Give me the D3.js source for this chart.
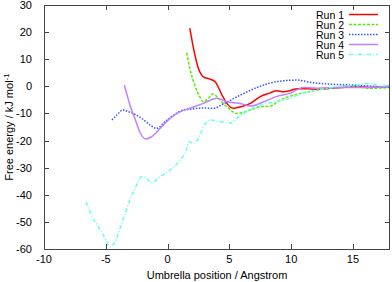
<!DOCTYPE html>
<html><head><meta charset="utf-8">
<script src="https://cdn.jsdelivr.net/npm/d3@7"></script>
<style>
html,body{margin:0;padding:0;background:#fff;}
svg text{font-family:"Liberation Sans",Arial,sans-serif;font-size:11px;fill:#000;}
</style></head>
<body><svg id="c" width="392" height="282"></svg>
<script>
const xTicks = [-10, -5, 0, 5, 10, 15];
const yTicks = [30, 20, 10, 0, -10, -20, -30, -40, -50, -60];
const seriesNames = ["Run 1", "Run 2", "Run 3", "Run 4", "Run 5"];
const run1 = [[1.8,21.5],[2.1,14],[2.5,6.6],[2.9,3.5],[3.4,2.7],[3.85,1.7],[4.4,-3.2],[4.8,-6.3],[5.3,-8.1],[6.1,-7.3],[6.7,-6.3],[7.5,-3.8],[8.3,-2.4],[8.8,-1.6],[9.4,-2.0],[9.9,-1.6],[10.5,-0.9],[11.3,-0.9],[12.1,-1.1],[13.2,-0.7],[14.2,-0.4],[15.3,-0.1],[16.4,-0.4],[18,0]];
const run2 = [[1.55,12.4],[1.8,6.6],[2.2,0.5],[2.6,-3.8],[2.9,-5.7],[3.3,-4.4],[3.65,-2.8],[4.0,-3.8],[4.5,-6.3],[4.8,-7.5],[5.6,-10],[6.7,-8.7],[7.5,-7.5],[8.3,-7.3],[9.1,-5.1],[10.2,-3.2],[11,-2.4],[12.1,-1.4],[13.7,-0.4],[14.8,0.1],[16.4,-0.7],[18,-0.5]];
const run3 = [[-4.5,-12.4],[-4.1,-10.6],[-3.6,-8.7],[-3.4,-9],[-2.8,-10],[-2.1,-11.8],[-1.4,-14.3],[-0.9,-15.5],[-0.2,-13],[0.5,-10.6],[1.3,-8.7],[1.8,-8.5],[2.8,-8.0],[3.7,-8.1],[4.5,-6.5],[5.9,-3.2],[7.2,-0.5],[8.8,1.7],[10.5,2.3],[11.5,1.5],[13.2,0.8],[14.8,0.5],[16.4,0.1],[18,-0.4]];
const run4 = [[-3.5,0.5],[-3.0,-7.5],[-2.6,-12.4],[-2.2,-17.3],[-1.75,-19.4],[-1.3,-18.6],[-0.6,-15.5],[0.2,-11.8],[1.0,-9.4],[1.8,-8.1],[2.9,-6.3],[4.0,-4.4],[4.8,-5.7],[5.9,-6.3],[6.7,-7.3],[7.8,-5.7],[8.8,-3.8],[9.9,-2.6],[11,-0.4],[12.1,-0.7],[13.7,-0.4],[16.4,-0.4],[18,0]];
const run5 = [[-6.6,-42.6],[-6.1,-48.1],[-5.6,-51.8],[-5.05,-56.1],[-4.65,-59.2],[-4.25,-57.3],[-3.7,-50.5],[-3.05,-41.9],[-2.5,-36.4],[-2.1,-33.3],[-1.7,-33.9],[-1.3,-35.5],[-0.6,-33.3],[0.2,-30.9],[0.9,-27.8],[1.55,-22.9],[1.7,-20.4],[2.1,-21],[2.5,-19.2],[2.9,-14.9],[3.45,-12.4],[4.25,-13],[5.05,-13.6],[5.6,-11.8],[6.15,-10],[7.2,-7.5],[8.3,-6.0],[9.4,-5.1],[9.9,-4.4],[11,-2.4],[12.1,-1.4],[13.7,-0.1],[15.3,0.5],[16.4,1.1],[17.2,0.1],[18,0.5]];
const allRuns = [run1, run2, run3, run4, run5];
const colors = ["#ff0000", "#55ee00", "#3355ff", "#c080ff", "#66ffee"];
const dashes = [null, "3,1.5", "1.5,1.5", null, "4,2,1,2"];

const W = 392, H = 282;
const L = 44, R = 390, T = 5, B = 249;
const svg = d3.select("#c");
const x = d3.scaleLinear().domain([-10, 18]).range([L, R]);
const y = d3.scaleLinear().domain([-60, 30]).range([B, T]);
const axisColor = "#444";
const tk = 5;

// ticks (inside, mirrored)
const g = svg.append("g");
xTicks.forEach(v => {
  const px = Math.round(x(v)) + 0.5;
  if (v > -10) {
    g.append("line").attr("x1", px).attr("x2", px).attr("y1", B).attr("y2", B - tk).attr("stroke", axisColor);
    g.append("line").attr("x1", px).attr("x2", px).attr("y1", T).attr("y2", T + tk).attr("stroke", axisColor);
  }
  g.append("text").attr("x", x(v)).attr("y", 263).attr("text-anchor", "middle").text(v);
});
yTicks.forEach(v => {
  const py = Math.round(y(v)) + 0.5;
  if (v < 30 && v > -60) {
    g.append("line").attr("x1", L).attr("x2", L + tk).attr("y1", py).attr("y2", py).attr("stroke", axisColor);
    g.append("line").attr("x1", R).attr("x2", R - tk).attr("y1", py).attr("y2", py).attr("stroke", axisColor);
  }
  g.append("text").attr("x", 32).attr("y", y(v) + 4).attr("text-anchor", "end").text(v);
});

// data lines
const line = d3.line().x(d => x(d[0])).y(d => y(d[1])).curve(d3.curveMonotoneX);
svg.append("clipPath").attr("id", "pc").append("rect").attr("x", L).attr("y", T).attr("width", R - L).attr("height", B - T);
allRuns.forEach((data, i) => {
  svg.append("path").datum(data).attr("d", line).attr("fill", "none")
    .attr("stroke", colors[i]).attr("stroke-width", 1.5)
    .attr("stroke-dasharray", dashes[i]).attr("clip-path", "url(#pc)");
});

// frame
svg.append("rect").attr("x", L + 0.5).attr("y", T + 0.5).attr("width", R - L - 1).attr("height", B - T)
  .attr("fill", "none").attr("stroke", axisColor).attr("stroke-width", 1);

// legend
const lg = svg.append("g").style("font-size", "10.5px");
seriesNames.forEach((name, i) => {
  const ly = 14.5 + i * 10;
  lg.append("text").attr("x", 344).attr("y", ly + 4).attr("text-anchor", "end").style("font-size", "10.5px").text(name);
  lg.append("line").attr("x1", 349).attr("x2", 378).attr("y1", ly).attr("y2", ly)
    .attr("stroke", colors[i]).attr("stroke-width", 1.5).attr("stroke-dasharray", dashes[i]);
});

// axis titles
svg.append("text").attr("x", 217).attr("y", 279).attr("text-anchor", "middle").text("Umbrella position / Angstrom");
const yt = svg.append("text").attr("transform", "translate(13,127) rotate(-90)").attr("text-anchor", "middle");
yt.append("tspan").text("Free energy / kJ  mol");
yt.append("tspan").attr("dy", -4).attr("font-size", "8px").text("-1");
</script></body></html>
